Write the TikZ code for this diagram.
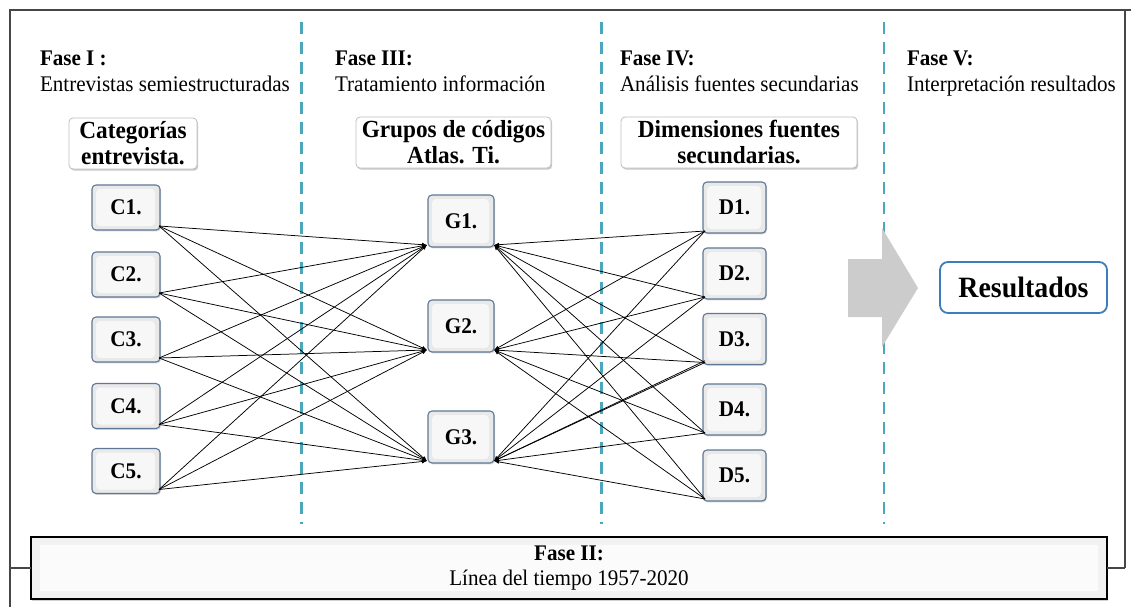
\documentclass[tikz,border=0pt]{standalone}
\usepackage{fontspec}
\setmainfont{Liberation Serif}[FakeStretch=0.945]
\usetikzlibrary{arrows.meta,shadows}
\definecolor{dashteal}{RGB}{75,168,188}
\definecolor{boxedge}{RGB}{95,120,150}
\definecolor{resblue}{RGB}{60,125,190}
\definecolor{framegray}{RGB}{70,70,70}
\definecolor{arrowgray}{RGB}{204,204,204}
\begin{document}
\begin{tikzpicture}[x=1pt,y=-1pt,
  every node/.style={inner sep=0pt, outer sep=0pt},
  phasetitle/.style={anchor=base west, font=\bfseries\fontsize{22.3}{26}\selectfont},
  phasetext/.style={anchor=base west, font=\fontsize{22.3}{26}\selectfont},
  headbox/.style={draw=gray!50, fill=white, rounded corners=4pt, line width=0.8pt,
    align=center, font=\bfseries\fontsize{24.6}{26}\selectfont,
    drop shadow={shadow xshift=1.2pt, shadow yshift=-1.6pt, fill=black!40, opacity=0.55}},
  itembox/.style={draw=boxedge, line width=1.1pt, rounded corners=4pt, fill=gray!17,
    font=\bfseries\fontsize{22.4}{24}\selectfont,
    drop shadow={shadow xshift=1pt, shadow yshift=-1.4pt, fill=black!30, opacity=0.5},
    path picture={\fill[gray!6] ([xshift=4pt,yshift=4pt]path picture bounding box.south west)
      rectangle ([xshift=-5pt,yshift=-4pt]path picture bounding box.north east);}},
  resbox/.style={draw=resblue, line width=1.8pt, rounded corners=8pt, fill=white,
    font=\bfseries\fontsize{29.5}{32}\selectfont},
  timebox/.style={draw=black, line width=2.6pt, fill=gray!10, align=center,
    font=\fontsize{22.3}{25}\selectfont,
    drop shadow={shadow xshift=0.5pt, shadow yshift=-2.2pt, fill=black!35, opacity=0.5},
    path picture={\fill[gray!3] ([xshift=9pt,yshift=8pt]path picture bounding box.south west)
      rectangle ([xshift=-9pt,yshift=-8pt]path picture bounding box.north east);}},
  phaseline/.style={dashteal, line width=2.6pt, dash pattern=on 12pt off 8pt},
  frameline/.style={framegray, line width=1.3pt},
  conn/.style={black, line width=0.75pt, -{Latex[length=5pt,width=4pt]}}
]
\useasboundingbox (0,0) rectangle (1131,607);

% outer frame
\draw[frameline] (10,607) -- (10,10) -- (1131,10);
\draw[frameline] (1125,10) -- (1125,568);

% phase separators
\draw[phaseline] (301.5,22) -- (301.5,524);
\draw[phaseline] (601.5,22) -- (601.5,524);
\draw[phaseline] (884,22) -- (884,524);

% phase titles
\node[phasetitle] (t1) at (40,66) {Fase I :};
\node[phasetext]  (s1) at (40,92) {Entrevistas semiestructuradas};
\node[phasetitle] (t3) at (335,66) {Fase III:};
\node[phasetext]  (s3) at (335,92) {Tratamiento información};
\node[phasetitle] (t4) at (620,66) {Fase IV:};
\node[phasetext]  (s4) at (620,92) {Análisis fuentes secundarias};
\node[phasetitle] (t5) at (907,66) {Fase V:};
\node[phasetext]  (s5) at (907,92) {Interpretación resultados};

% column headers
\node[headbox, minimum width=128pt, minimum height=51pt] (hc) at (133,143.5) {Categorías\\entrevista.};
\node[headbox, minimum width=195pt, minimum height=51pt] (hg) at (453.5,142.5) {Grupos de códigos\\Atlas. Ti.};
\node[headbox, minimum width=236pt, minimum height=51pt] (hd) at (739,142.5) {Dimensiones fuentes\\secundarias.};

% C boxes
\node[itembox, minimum width=68pt, minimum height=45pt] (C1) at (126,207.5) {C1.};
\node[itembox, minimum width=68pt, minimum height=45pt] (C2) at (126,274.5) {C2.};
\node[itembox, minimum width=68pt, minimum height=45pt] (C3) at (126,339.5) {C3.};
\node[itembox, minimum width=68pt, minimum height=45pt] (C4) at (126,406) {C4.};
\node[itembox, minimum width=68pt, minimum height=45pt] (C5) at (126,471) {C5.};

% G boxes
\node[itembox, minimum width=66pt, minimum height=52pt] (G1) at (461,221) {G1.};
\node[itembox, minimum width=66pt, minimum height=52pt] (G2) at (461,326) {G2.};
\node[itembox, minimum width=66pt, minimum height=52pt] (G3) at (461,437) {G3.};

% D boxes
\node[itembox, minimum width=63pt, minimum height=51pt] (D1) at (734.5,207.5) {D1.};
\node[itembox, minimum width=63pt, minimum height=51pt] (D2) at (734.5,273.5) {D2.};
\node[itembox, minimum width=63pt, minimum height=51pt] (D3) at (734.5,339) {D3.};
\node[itembox, minimum width=63pt, minimum height=51pt] (D4) at (734.5,409.5) {D4.};
\node[itembox, minimum width=63pt, minimum height=51pt] (D5) at (734.5,475.5) {D5.};

% connector end points
\foreach \i in {1,...,5}{
  \coordinate (C\i-o) at ([xshift=-1pt,yshift=4pt]C\i.south east);
  \coordinate (D\i-o) at ([xshift=2pt,yshift=2pt]D\i.south west);
}
\foreach \j in {1,2,3}{
  \coordinate (G\j-l) at ([xshift=-1pt,yshift=2pt]G\j.south west);
  \coordinate (G\j-r) at ([xshift=0pt,yshift=2pt]G\j.south east);
}

% connectors
\foreach \i in {1,...,5}{
  \foreach \j in {1,2,3}{
    \draw[conn] (C\i-o) -- (G\j-l);
    \draw[conn] (D\i-o) -- (G\j-r);
  }
}
\draw[conn] ([yshift=1.8pt]D3-o) -- (G3-r);

% big arrow and result
\fill[arrowgray] (848,259) -- (882,259) -- (882,228) -- (918,288) -- (882,347) -- (882,317) -- (848,317) -- cycle;
\node[resbox, minimum width=167pt, minimum height=51pt] (res) at (1023.5,287.5) {Resultados};

% Fase II box
\node[timebox, minimum width=1076pt, minimum height=62pt] (f2) at (569,568) {\textbf{Fase II:}\\Línea del tiempo 1957-2020};
\draw[frameline] (10,568) -- (f2.west);
\draw[frameline] (f2.east) -- (1125,568);
\end{tikzpicture}
\end{document}
